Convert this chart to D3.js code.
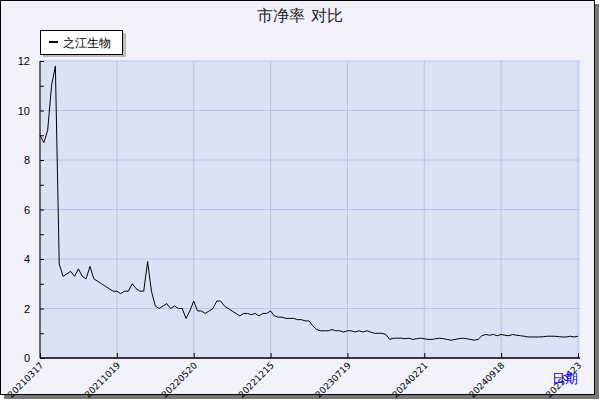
<!DOCTYPE html>
<html><head><meta charset="utf-8">
<script src="https://cdn.jsdelivr.net/npm/d3@7"></script>
<style>body{margin:0;background:#fff}</style>
</head><body>
<script>
const title = "市净率  对比";
const seriesName = "之江生物";
const tickLabels = ["20210317","20211019","20220520","20221215","20230719","20240221","20240918","20250423"];
const yTicks = [0,2,4,6,8,10,12];
// one value per sample, 141 samples, tick every 20 samples
const pb = [9.0,8.7,9.2,11.0,11.8,3.8,3.3,3.4,3.5,3.3,3.6,3.3,3.2,3.7,3.2,3.1,3.0,2.9,2.8,2.7,
  2.7,2.6,2.7,2.7,3.0,2.8,2.7,2.7,3.9,2.7,2.1,2.0,2.1,2.2,2.0,2.1,2.0,2.0,1.6,1.9,
  2.3,1.9,1.9,1.8,1.9,2.0,2.3,2.3,2.1,2.0,1.9,1.8,1.7,1.8,1.8,1.75,1.8,1.7,1.8,1.8,
  1.9,1.7,1.65,1.65,1.6,1.6,1.6,1.55,1.55,1.5,1.5,1.3,1.15,1.1,1.1,1.1,1.15,1.1,1.1,1.05,
  1.1,1.1,1.05,1.1,1.05,1.1,1.05,1.0,1.0,1.0,0.95,0.75,0.8,0.8,0.8,0.78,0.8,0.75,0.78,0.8,
  0.78,0.75,0.75,0.78,0.8,0.78,0.75,0.72,0.75,0.78,0.8,0.78,0.75,0.72,0.75,0.9,0.95,0.92,0.95,0.9,
  0.95,0.92,0.9,0.95,0.92,0.9,0.88,0.85,0.85,0.85,0.85,0.86,0.88,0.88,0.88,0.86,0.85,0.85,0.88,0.85,0.88];

const W = 600, H = 400;
const svg = d3.select("body").append("svg").attr("width", W).attr("height", H)
  .style("font-family", "DejaVu Sans, sans-serif");
svg.append("rect").attr("x", 4).attr("y", 4).attr("width", 595).attr("height", 395).attr("fill", "#777");
svg.append("rect").attr("x", 0.5).attr("y", 0.5).attr("width", 594).attr("height", 394)
  .attr("fill", "#f2f2fa").attr("stroke", "#000");

const m = {l: 40, r: 580, t: 61, b: 358};
const x = d3.scaleLinear().domain([0, 140]).range([m.l, m.l + 538]);
const y = d3.scaleLinear().domain([0, 12]).range([m.b, m.t]);

svg.append("rect").attr("x", m.l).attr("y", m.t).attr("width", m.r - m.l).attr("height", m.b - m.t)
  .attr("fill", "#dce1f6");
const tickIdx = tickLabels.map((d, i) => i * 20);
svg.append("g").selectAll("line").data(tickIdx).join("line")
  .attr("x1", d => x(d)).attr("x2", d => x(d)).attr("y1", m.t).attr("y2", m.b)
  .attr("stroke", "#b8c4e8");
svg.append("g").selectAll("line").data(yTicks).join("line")
  .attr("x1", m.l).attr("x2", m.r).attr("y1", d => y(d)).attr("y2", d => y(d))
  .attr("stroke", "#b8c4e8");

svg.append("path").datum(pb)
  .attr("d", d3.line().x((d, i) => x(i)).y(d => y(d)))
  .attr("fill", "none").attr("stroke", "#000").attr("stroke-width", 1);

// axes
const ya = svg.append("g").attr("transform", `translate(${m.l},0)`)
  .call(d3.axisLeft(y).tickValues(d3.range(0, 13, 1)).tickSize(4)
    .tickFormat(d => d % 2 === 0 ? d : ""));
ya.selectAll("line").attr("transform", "translate(4,0)").attr("x2", -4).attr("x1", 0);
ya.selectAll("text").attr("font-size", 11).attr("fill", "#000").attr("x", -10);
ya.select(".domain").attr("d", `M0,${m.t}V${m.b}`);

const xa = svg.append("g").attr("transform", `translate(0,${m.b})`)
  .call(d3.axisBottom(x).tickValues(tickIdx).tickSize(0).tickFormat(""));
xa.select(".domain").attr("d", `M${m.l},0H${m.r}`).attr("stroke-width", 1.5);
xa.selectAll(".tick line").attr("y1", -5).attr("y2", 0).attr("stroke", "#000");
svg.append("g").selectAll("text").data(tickLabels).join("text")
  .attr("transform", (d, i) => `translate(${x(i * 20) + 4},${m.b + 8}) rotate(-45)`)
  .attr("text-anchor", "end").attr("font-size", 9).text(d => d);

svg.append("text").attr("x", 578).attr("y", 383).attr("text-anchor", "end")
  .attr("fill", "#0000ee").attr("font-size", 13).text("日期");

svg.append("text").attr("x", 300).attr("y", 21).attr("text-anchor", "middle")
  .attr("font-size", 16).attr("fill", "#222").text(title);

// legend
svg.append("rect").attr("x", 43).attr("y", 33).attr("width", 83).attr("height", 24).attr("fill", "#bbb");
svg.append("rect").attr("x", 40.5).attr("y", 30.5).attr("width", 82).attr("height", 24)
  .attr("fill", "#fff").attr("stroke", "#000");
svg.append("line").attr("x1", 49).attr("x2", 58).attr("y1", 42).attr("y2", 42)
  .attr("stroke", "#000").attr("stroke-width", 2);
svg.append("text").attr("x", 63).attr("y", 47).attr("font-size", 12).text(seriesName);
</script>
</body></html>
